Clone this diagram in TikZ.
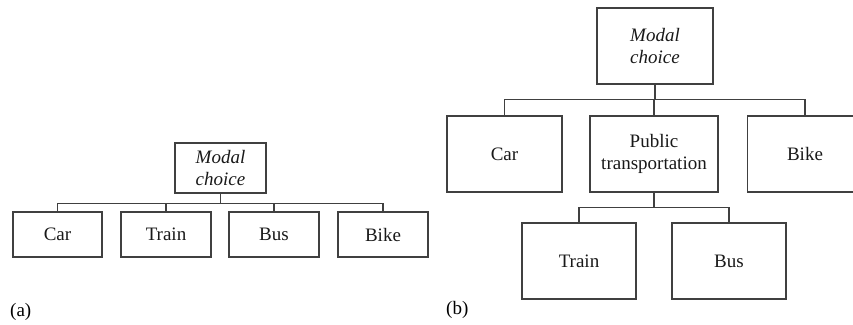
\documentclass[tikz,border=0pt]{standalone}
\usepackage{tikz}
\usepackage{xcolor}
\usepackage{fontspec}
\setmainfont{Liberation Serif}
\usetikzlibrary{positioning, calc}

\tikzset{
    box/.style={draw=black!75, line width=1.1pt, inner sep=0pt, align=center,
        font=\fontsize{19}{22}\selectfont, text=black!90},
    link/.style={draw=black!75, line width=1.1pt},
    tag/.style={anchor=west, inner sep=0pt, font=\fontsize{19}{22}\selectfont}
}

\begin{document}
\begin{tikzpicture}[x=1pt, y=-1pt]
    \useasboundingbox (0,0) rectangle (853,324);
    \clip (0,0) rectangle (853,324);

    % (a) flat choice
    \node[box, minimum width=91pt, minimum height=50pt] (amc) at (220.5,168) {\itshape Modal\\\itshape choice};
    \node[box, minimum width=89pt, minimum height=45pt] (acar) at (57.5,234.5) {Car};
    \node[box, minimum width=90pt, minimum height=45pt] (atrain) at (166,234.5) {Train};
    \node[box, minimum width=90pt, minimum height=45pt] (abus) at (274,234.5) {Bus};
    \node[box, minimum width=90pt, minimum height=45pt] (abike) at (383,234.5) {Bike};
    \foreach \c in {acar, atrain, abus, abike}
        \draw[link] (amc.south) -- ++(0,10) -| (\c.north);
    \node[tag] (alabel) at (10,312) {(a)};

    % (b) nested choice
    \node[box, minimum width=116pt, minimum height=76pt] (bmc) at (655,46) {\itshape Modal\\\itshape choice};
    \node[box, minimum width=115pt, minimum height=76pt] (bcar) at (504.5,154) {Car};
    \node[box, minimum width=128pt, minimum height=76pt] (bpub) at (654,154) {Public\\transportation};
    \node[box, minimum width=115pt, minimum height=76pt] (bbike) at (805,154) {Bike};
    \foreach \c in {bcar, bpub, bbike}
        \draw[link] (bmc.south) -- ++(0,15) -| (\c.north);
    \node[box, minimum width=114pt, minimum height=76pt] (btrain) at (579,261) {Train};
    \node[box, minimum width=114pt, minimum height=76pt] (bbus) at (729,261) {Bus};
    \foreach \c in {btrain, bbus}
        \draw[link] (bpub.south) -- ++(0,15) -| (\c.north);
    \node[tag] (blabel) at (446,310) {(b)};
\end{tikzpicture}
\end{document}
